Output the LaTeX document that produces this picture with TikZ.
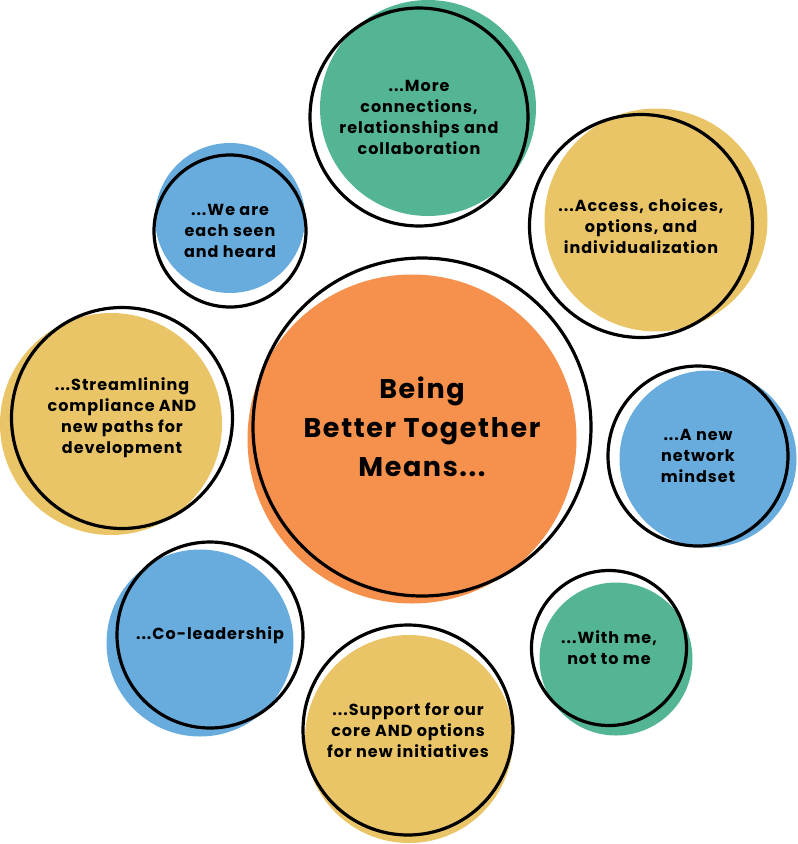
\documentclass[tikz,border=0pt]{standalone}
\usepackage{fontspec}
\setmainfont{Poppins}[LetterSpace=6]
\usetikzlibrary{positioning}

\definecolor{mintgreen}{RGB}{83,181,148}
\definecolor{mustard}{RGB}{233,197,103}
\definecolor{skyblue}{RGB}{104,172,222}
\definecolor{tangerine}{RGB}{245,145,76}

\begin{document}
\begin{tikzpicture}[x=1pt, y=-1pt,
		blob/.style={circle, inner sep=0pt, draw=none},
		ring/.style={circle, draw=black, line width=3.2pt, inner sep=0pt, align=center, font=\bfseries\fontsize{16}{21}\selectfont}]
		
		\useasboundingbox (0,0) rectangle (798,844);
		
		% --- COLOURED DISCS (offset behind the outlines) ---
		\node[blob, fill=tangerine, minimum size=329pt] (CoreFill) at (412,439) {};
		\node[blob, fill=mintgreen, minimum size=216pt] (ConnectFill) at (428,108) {};
		\node[blob, fill=mustard, minimum size=223pt] (AccessFill) at (656,220) {};
		\node[blob, fill=skyblue, minimum size=150pt] (HeardFill) at (230,218) {};
		\node[blob, fill=mustard, minimum size=222pt] (StreamFill) at (111,424) {};
		\node[blob, fill=skyblue, minimum size=177pt] (NetworkFill) at (708,459) {};
		\node[blob, fill=skyblue, minimum size=187pt] (CoLeadFill) at (200,643) {};
		\node[blob, fill=mustard, minimum size=208pt] (SupportFill) at (409,739) {};
		\node[blob, fill=mintgreen, minimum size=153pt] (WithMeFill) at (616,659) {};
		
		% --- OUTLINES WITH TEXT ---
		\node[ring, minimum size=338pt, font=\bfseries\fontsize{27}{39}\selectfont] (Core) at (422,427) {Being\\Better Together\\Means...};
		\node[ring, minimum size=218pt] (Connect) at (419,117) {...More\\connections,\\relationships and\\collaboration};
		\node[ring, minimum size=223pt] (Access) at (641,226) {...Access, choices,\\options, and\\individualization};
		\node[ring, minimum size=152pt] (Heard) at (230,231) {...We are\\each seen\\and heard};
		\node[ring, minimum size=221pt] (Stream) at (122,418) {...Streamlining\\compliance AND\\new paths for\\development};
		\node[ring, minimum size=180pt] (Network) at (698,456) {...A new\\network\\mindset};
		\node[ring, minimum size=186pt] (CoLead) at (210,635) {...Co-leadership};
		\node[ring, minimum size=210pt] (Support) at (408,730) {...Support for our\\core AND options\\for new initiatives};
		\node[ring, minimum size=155pt] (WithMe) at (609,648) {...With me,\\not to me};
		
	\end{tikzpicture}
\end{document}
